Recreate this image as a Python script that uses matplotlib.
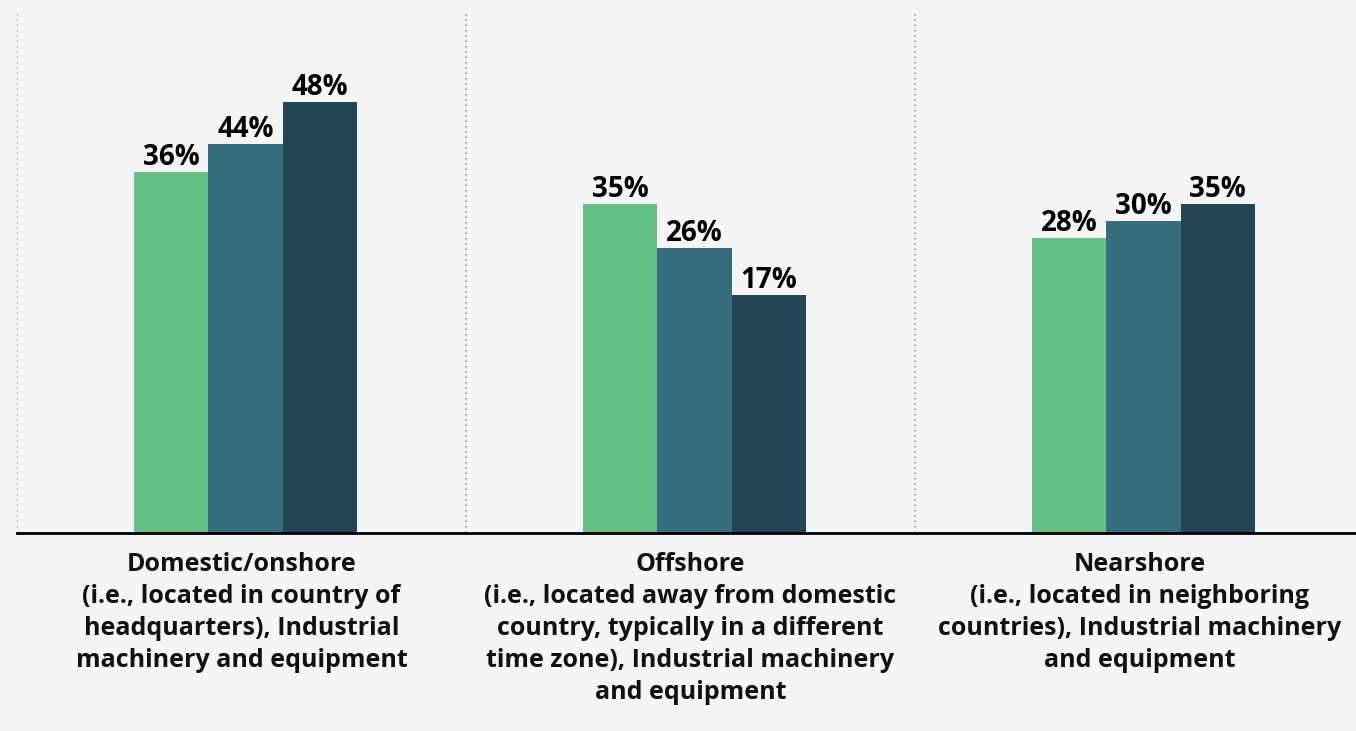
import matplotlib
matplotlib.use("Agg")
import matplotlib.pyplot as plt
import matplotlib.transforms as mtransforms

categories = [
    "Domestic/onshore\n(i.e., located in country of\nheadquarters), Industrial\nmachinery and equipment",
    "Offshore\n(i.e., located away from domestic\ncountry, typically in a different\ntime zone), Industrial machinery\nand equipment",
    "Nearshore\n(i.e., located in neighboring\ncountries), Industrial machinery\nand equipment",
]
# bar lengths as drawn in the picture
series_a = [40.2, 36.6, 32.9]
series_b = [43.3, 31.7, 34.7]
series_c = [48.0, 26.5, 36.6]
# printed value labels
labels_a = ["36%", "35%", "28%"]
labels_b = ["44%", "26%", "30%"]
labels_c = ["48%", "17%", "35%"]

colors = ["#65c087", "#366e7e", "#234555"]
bg = "#f5f5f5"

plt.rcParams['font.family'] = ['Open Sans', 'DejaVu Sans']

W, H = 1356, 731
fig = plt.figure(figsize=(W / 100, H / 100), dpi=100, facecolor=bg)
left_px, right_px, top_px, base_px = 17, 1364, 14, 533
ax = fig.add_axes([left_px / W, (H - base_px) / H, (right_px - left_px) / W, (base_px - top_px) / H])
ax.set_facecolor(bg)

xs = list(range(len(categories)))
off = 0.009
ax.set_xlim(-0.5 - off, len(categories) - 0.5 - off)
ax.set_ylim(0, 57.8)

bw = 0.165
for k, (vals, labs) in enumerate([(series_a, labels_a), (series_b, labels_b), (series_c, labels_c)]):
    pos = [x + (k - 1) * bw for x in xs]
    bars = ax.bar(pos, vals, width=bw, color=colors[k], zorder=2)
    for b, lab in zip(bars, labs):
        ax.annotate(lab, (b.get_x() + b.get_width() / 2, b.get_height()),
                    xytext=(0, 0), textcoords='offset points', ha='center', va='bottom',
                    fontsize=20, fontweight='bold', color='#000000')

for i in range(len(categories)):
    ax.axvline(i - 0.5 - off, color='#9a9a9a', linestyle=(0, (1, 2.2)), linewidth=1.2, zorder=1)

ax.axhline(0, color='#000000', linewidth=2, zorder=3, clip_on=False)

trans = mtransforms.blended_transform_factory(ax.transData, ax.transAxes)
for i, c in enumerate(categories):
    ax.text(i - off, -0.036, c, transform=trans, ha='center', va='top',
            fontsize=18, fontweight='bold', color='#111111', linespacing=1.375)

for s in ax.spines.values():
    s.set_visible(False)
ax.set_xticks([])
ax.set_yticks([])

fig.savefig("out.png", dpi=100, facecolor=bg)
